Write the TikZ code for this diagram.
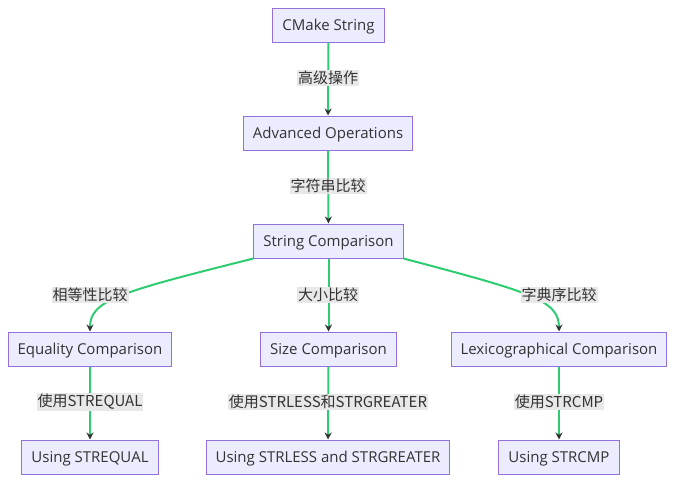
\documentclass[tikz,border=0pt]{standalone}
\usepackage{fontspec}
\setmainfont{Open Sans}
\newfontfamily\cjk{Noto Sans CJK SC}
\usepackage{xcolor}
\usetikzlibrary{arrows.meta,calc,positioning}
\definecolor{boxfill}{HTML}{ECECFF}
\definecolor{boxline}{HTML}{9370DB}
\definecolor{linkgreen}{HTML}{2ECC71}
\definecolor{lblbg}{HTML}{E8E8E8}
\definecolor{txt}{HTML}{333333}
\tikzset{
  box/.style={draw=boxline, fill=boxfill, line width=1pt, minimum height=34pt,
    inner xsep=9.5pt, text height=11pt, text depth=0pt, text=txt,
    font=\fontsize{15}{17}\selectfont},
  link/.style={draw=linkgreen, line width=2pt,
    -{Stealth[length=7pt,width=7pt,color=txt]}},
  lbl/.style={fill=lblbg, inner sep=1pt, text=txt, font=\cjk\fontsize{15}{17}\selectfont}
}
\begin{document}
\begin{tikzpicture}[x=1pt,y=-1pt]
\useasboundingbox (0,0) rectangle (676,482);
\node[box] (cmake) at (328.5,25) {CMake String};
\node[box] (adv) at (328,133) {Advanced Operations};
\node[box] (cmp) at (328.5,241) {String Comparison};
\node[box] (eq) at (90,349) {Equality Comparison};
\node[box] (size) at (328.5,349) {Size Comparison};
\node[box] (lex) at (559,349) {Lexicographical Comparison};
\node[box] (useq) at (90,457) {Using STREQUAL};
\node[box] (usls) at (328,457) {Using STRLESS and STRGREATER};
\node[box] (uscmp) at (559,457) {Using STRCMP};
% edges
\draw[link] (cmake) -- (adv);
\draw[link] (adv) -- (cmp);
\draw[link] (cmp.south west) .. controls (120,292) and (90,300) .. (eq.north); %left
\draw[link] (cmp) -- (size);
\draw[link] (cmp.south east) .. controls (530,292) and (559,300) .. (lex.north); %right
\draw[link] (eq) -- (useq);
\draw[link] (size) -- (usls);
\draw[link] (lex) -- (uscmp);
% labels
\node[lbl] (l1) at (328,78) {高级操作};
\node[lbl] (l2) at (328,186) {字符串比较};
\node[lbl] (l3) at (90,295) {相等性比较};
\node[lbl] (l4) at (328,295) {大小比较};
\node[lbl] (l5) at (559,295) {字典序比较};
\node[lbl] (l6) at (90,402) {使用STREQUAL};
\node[lbl] (l7) at (328,402) {使用STRLESS和STRGREATER};
\node[lbl] (l8) at (559,402) {使用STRCMP};
\end{tikzpicture}
\end{document}
